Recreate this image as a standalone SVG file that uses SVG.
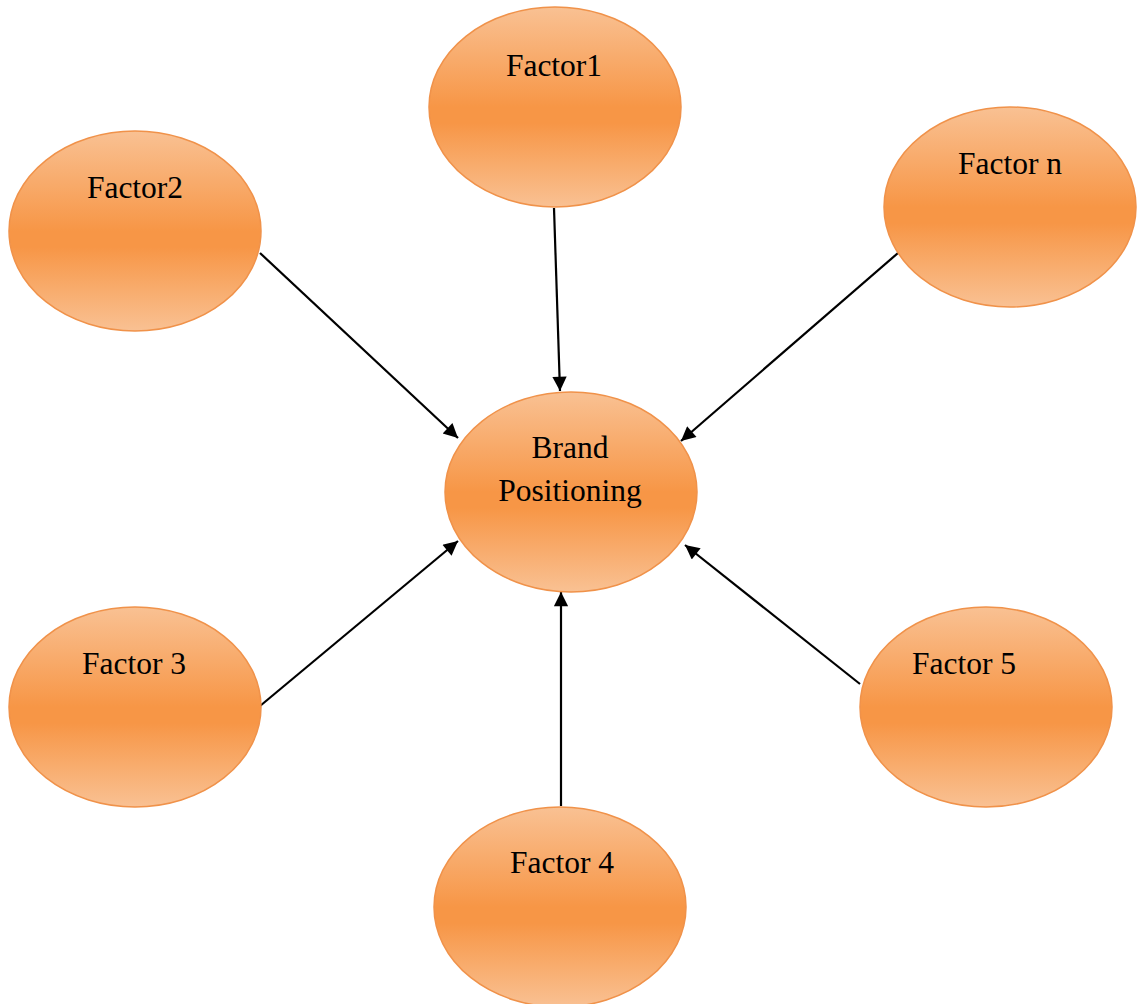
<svg xmlns="http://www.w3.org/2000/svg" width="1141" height="1004" viewBox="0 0 1141 1004">
  <style>
    .node ellipse { fill: url(#orangeGrad); stroke: #f0924a; stroke-width: 1.5; }
    .node text { font-family: "Liberation Serif", "Times New Roman", serif; font-size: 31.5px; fill: #000; text-anchor: middle; }
    .conn line { stroke: #000; stroke-width: 2.2; marker-end: url(#arrow); }
  </style>
  <defs>
    <linearGradient id="orangeGrad" x1="0" y1="0" x2="0" y2="1">
      <stop offset="0" stop-color="#f9c193"/>
      <stop offset="0.5" stop-color="#f79646"/>
      <stop offset="0.58" stop-color="#f79646"/>
      <stop offset="1" stop-color="#f9c193"/>
    </linearGradient>
    <marker id="arrow" viewBox="0 0 10 10" refX="10" refY="5" markerWidth="7.5" markerHeight="6.5" markerUnits="strokeWidth" orient="auto">
      <path d="M0,0 L10,5 L0,10 z" fill="#000"/>
    </marker>
  </defs>

  <rect width="1141" height="1004" fill="#fff"/>

  <g id="connectors" class="conn">
    <line x1="554" y1="208" x2="560" y2="391"/>
    <line x1="260" y1="253" x2="458" y2="438"/>
    <line x1="898" y1="253" x2="681" y2="441"/>
    <line x1="260" y1="706" x2="458" y2="541"/>
    <line x1="860" y1="684" x2="685" y2="545"/>
    <line x1="561" y1="806" x2="561" y2="592"/>
  </g>

  <g id="brand" class="node">
    <ellipse cx="571" cy="492" rx="126" ry="100"/>
    <text x="570" y="458">Brand</text>
    <text x="570" y="501">Positioning</text>
  </g>
  <g id="factor1" class="node">
    <ellipse cx="555" cy="107" rx="126" ry="100"/>
    <text x="554" y="76">Factor1</text>
  </g>
  <g id="factor2" class="node">
    <ellipse cx="135" cy="231" rx="126" ry="100"/>
    <text x="135" y="198">Factor2</text>
  </g>
  <g id="factor-n" class="node">
    <ellipse cx="1010" cy="207" rx="126" ry="100"/>
    <text x="1010" y="174">Factor n</text>
  </g>
  <g id="factor3" class="node">
    <ellipse cx="135" cy="707" rx="126" ry="100"/>
    <text x="134" y="674">Factor 3</text>
  </g>
  <g id="factor5" class="node">
    <ellipse cx="986" cy="707" rx="126" ry="100"/>
    <text x="964" y="674">Factor 5</text>
  </g>
  <g id="factor4" class="node">
    <ellipse cx="560" cy="907" rx="126" ry="100"/>
    <text x="562" y="873">Factor 4</text>
  </g>
</svg>
